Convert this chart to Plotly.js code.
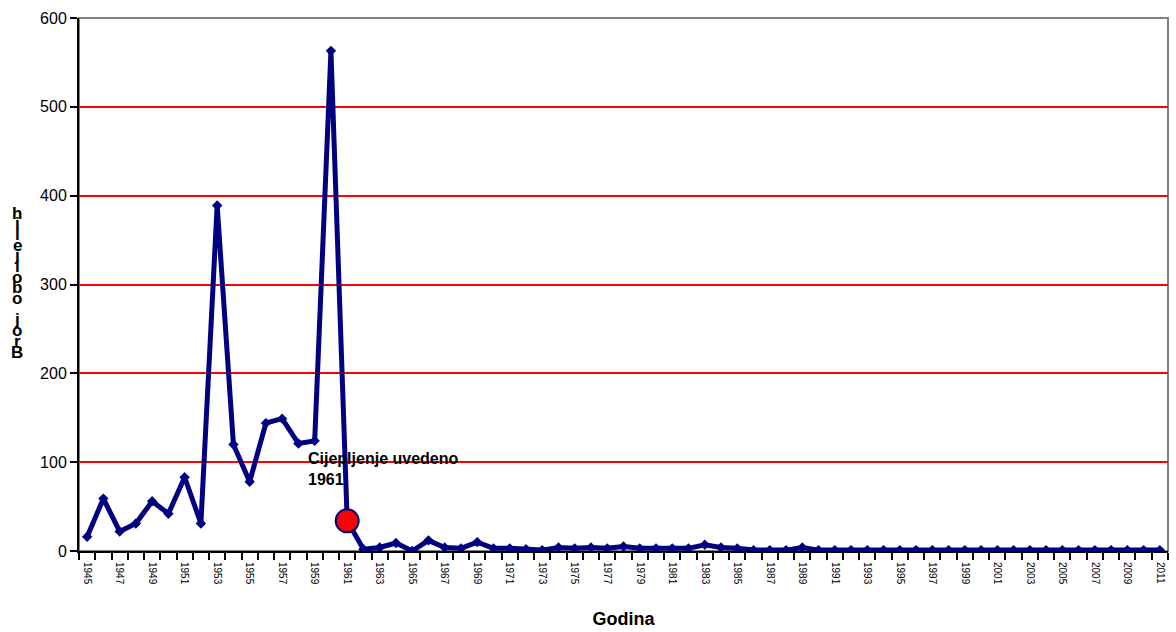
<!DOCTYPE html>
<html>
<head>
<meta charset="utf-8">
<script src="https://cdn.plot.ly/plotly-3.0.1.min.js"></script>
<style>html,body{margin:0;padding:0;background:#fff;}#chart{width:1176px;height:632px;}</style>
</head>
<body>
<div id="chart"></div>
<script>
// Data
const years = [];
for (let y = 1945; y <= 2011; y++) years.push(y);
const cases = [16, 59, 22, 31, 56, 42, 83, 31, 389, 120, 78, 144, 149, 121, 124, 563,
  34, 2, 4, 9, 0, 12, 4, 3, 10, 3, 3, 2, 1, 4, 3, 4, 3, 5, 3, 3, 3, 3, 7, 4, 3,
  1, 1, 1, 4, 1, 1, 1, 1, 1, 1, 1, 1, 1, 1, 1, 1, 1, 1, 1, 1, 1, 1, 1, 1, 1, 1];
const labelYears = years.filter((y, i) => i % 2 === 0);
const vaccineYear = 1961;
const annotationText = "Cijepljenje uvedeno<br>1961";
const yTitle = "Broj oboljelih";
const xTitle = "Godina";
const yTicks = [0, 100, 200, 300, 400, 500, 600];

const plotL = 79, plotT = 18, plotR = 1168, plotB = 551;
const W = 1176, H = 632;

const traces = [
  {
    x: years, y: cases, type: 'scatter', mode: 'lines+markers',
    line: {color: '#000080', width: 5},
    marker: {symbol: 'diamond', size: 8, color: '#000080'},
    hoverinfo: 'skip', showlegend: false
  },
  {
    x: [vaccineYear], y: [cases[years.indexOf(vaccineYear)]], type: 'scatter', mode: 'markers',
    marker: {symbol: 'circle', size: 23, color: '#FF0000', line: {color: '#000080', width: 2}},
    hoverinfo: 'skip', showlegend: false
  },
  {
    x: labelYears, y: labelYears.map(() => null), xaxis: 'x2', type: 'scatter', mode: 'markers',
    hoverinfo: 'skip', showlegend: false
  }
];

// stacked vertical y-axis title (letters upright, read bottom to top)
const letters = yTitle.split('').reverse();
const topC = 213, botC = 352;
const step = (botC - topC) / (letters.length - 1);
const annotations = letters.map((ch, i) => ({
  text: ch === ' ' ? '' : '<b>' + ch + '</b>',
  xref: 'paper', yref: 'paper',
  x: (17 - plotL) / (plotR - plotL),
  y: (plotB - (topC + i * step)) / (plotB - plotT),
  xanchor: 'center', yanchor: 'middle', showarrow: false,
  font: {family: 'Liberation Sans, Arial, sans-serif', size: 17, color: '#000'}
}));
annotations.push({
  text: '<b>' + annotationText + '</b>',
  xref: 'paper', yref: 'paper',
  x: (306 - plotL) / (plotR - plotL), y: (plotB - 448) / (plotB - plotT),
  xanchor: 'left', yanchor: 'top', align: 'left', showarrow: false,
  font: {family: 'Liberation Sans, Arial, sans-serif', size: 16, color: '#000'}
});

const layout = {
  width: W, height: H,
  margin: {l: plotL, r: W - plotR, t: plotT, b: H - plotB},
  paper_bgcolor: '#fff', plot_bgcolor: '#fff',
  font: {family: 'Liberation Sans, Arial, sans-serif', color: '#000'},
  xaxis: {
    range: [years[0] - 0.5, years[years.length - 1] + 0.5],
    tickmode: 'linear', tick0: years[0] - 0.5, dtick: 1,
    ticks: 'outside', ticklen: 7, tickwidth: 2, tickcolor: '#000',
    showticklabels: false, showgrid: false, zeroline: false,
    showline: true, linecolor: '#000', linewidth: 2,
    title: {text: '<b>' + xTitle + '</b>', font: {size: 18, color: '#000'}, standoff: 53}
  },
  xaxis2: {
    overlaying: 'x', matches: 'x', side: 'bottom',
    tickmode: 'array', tickvals: labelYears, ticktext: labelYears.map(String),
    tickangle: 90, ticks: '', ticklen: 0, ticklabelstandoff: 10,
    tickfont: {size: 10, color: '#000'},
    showgrid: false, zeroline: false, showline: false
  },
  yaxis: {
    range: [0, 600], tickmode: 'array', tickvals: yTicks,
    ticks: 'outside', ticklen: 7, tickwidth: 2, tickcolor: '#000',
    tickfont: {size: 16, color: '#000'},
    showgrid: true, gridcolor: '#FF0000', gridwidth: 2,
    zeroline: false, showline: true, linecolor: '#000', linewidth: 2
  },
  shapes: [{
    type: 'rect', xref: 'paper', yref: 'paper', x0: 0, x1: 1, y0: 0, y1: 1,
    line: {color: '#808080', width: 2}, layer: 'below'
  }],
  annotations: annotations,
  showlegend: false
};

Plotly.newPlot('chart', traces, layout, {staticPlot: true, displayModeBar: false});
</script>
</body>
</html>
